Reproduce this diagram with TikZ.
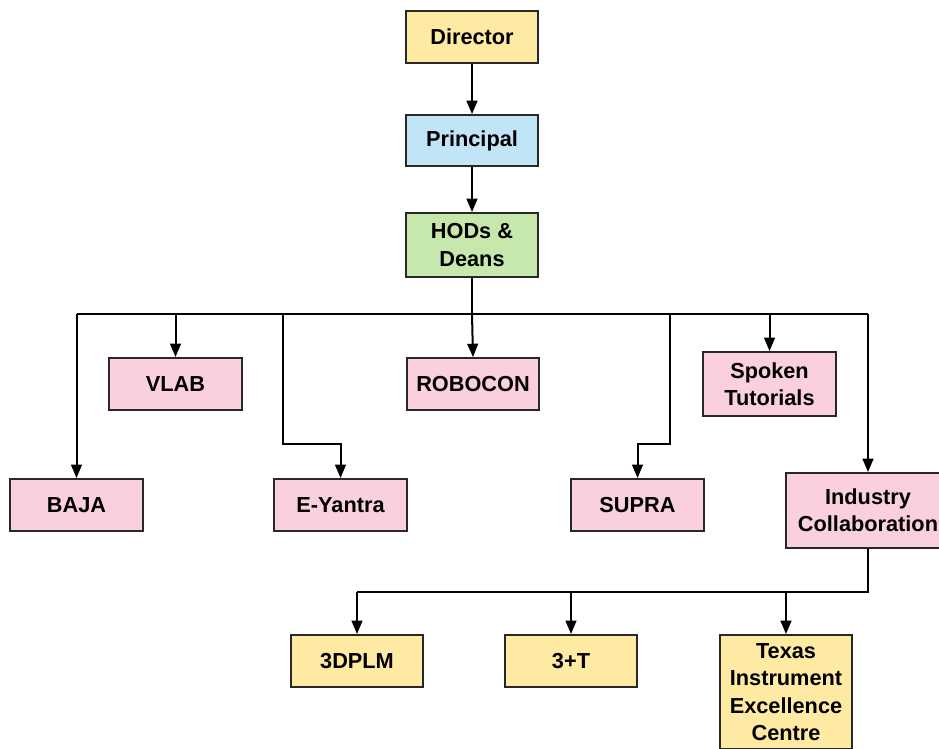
\documentclass[tikz,border=0pt]{standalone}
\usepackage{fontspec}
\setmainfont{Liberation Sans}
\usetikzlibrary{arrows.meta}
\definecolor{yel}{RGB}{255,234,164}
\definecolor{blu}{RGB}{193,228,246}
\definecolor{grn}{RGB}{199,232,172}
\definecolor{pnk}{RGB}{249,208,220}
\definecolor{edge}{RGB}{40,40,40}
\begin{document}
\begin{tikzpicture}[x=0.75pt,y=-0.75pt,
  box/.style={draw=edge,line width=1.4pt,inner sep=0pt,align=center,
    font=\fontsize{16.3}{20.5}\selectfont\bfseries,minimum width=99pt,minimum height=39pt},
  arr/.style={line width=1.5pt,draw=black,-{Triangle[length=10pt,width=8pt]}},
  ln/.style={line width=1.5pt,draw=black}]
\useasboundingbox (0,0) rectangle (939,749);
\begin{scope}
\clip (0,0) rectangle (939,749);
\node[box,fill=yel] (dir) at (472,37) {Director};
\node[box,fill=blu,minimum height=38.25pt] (prin) at (472,140.5) {Principal};
\node[box,fill=grn,minimum height=48pt] (hod) at (472,245) {HODs \&\\Deans};
\node[box,fill=pnk,minimum width=99.75pt] (vlab) at (175.5,384) {VLAB};
\node[box,fill=pnk] (rob) at (473,384) {ROBOCON};
\node[box,fill=pnk,minimum width=99.75pt,minimum height=48pt] (spk) at (769.5,384) {Spoken\\Tutorials};
\node[box,fill=pnk,minimum width=99.75pt] (baja) at (76.5,505) {BAJA};
\node[box,fill=pnk,minimum width=99.75pt] (ey) at (340.5,505) {E-Yantra};
\node[box,fill=pnk,minimum width=99.75pt] (sup) at (637.5,505) {SUPRA};
\node[box,fill=pnk,minimum width=123pt,minimum height=56.25pt] (ind) at (868,510.5) {Industry\\Collaboration};
\node[box,fill=yel] (p3d) at (357,661) {3DPLM};
\node[box,fill=yel] (t3) at (571,661) {3+T};
\node[box,fill=yel,minimum height=85.5pt] (tex) at (786,692) {Texas\\Instrument\\Excellence\\Centre};

\coordinate (bus) at (472,314);
\coordinate (eyk) at (283,444);
\coordinate (supk) at (670,444);
\coordinate (bus2) at (868,592);

\draw[arr] (dir) -- (prin);
\draw[arr] (prin) -- (hod);
\draw[ln] (hod.south) -- (bus);
\draw[ln] (bus -| baja.north) -- (bus -| ind.north);
\draw[arr] (bus -| baja.north) -- (baja.north);
\draw[arr] (bus -| vlab.north) -- (vlab.north);
\draw[arr] (bus) -- (rob.north);
\draw[arr] (bus -| spk.north) -- (spk.north);
\draw[arr] (bus -| ind.north) -- (ind.north);
\draw[arr] (bus -| eyk) -- (eyk) -| (ey.north);
\draw[arr] (bus -| supk) -- (supk) -| (sup.north);
\draw[ln] (ind.south) -- (bus2) -- (bus2 -| p3d.north);
\draw[arr] (bus2 -| p3d.north) -- (p3d.north);
\draw[arr] (bus2 -| t3.north) -- (t3.north);
\draw[arr] (bus2 -| tex.north) -- (tex.north);
\end{scope}
\end{tikzpicture}
\end{document}
